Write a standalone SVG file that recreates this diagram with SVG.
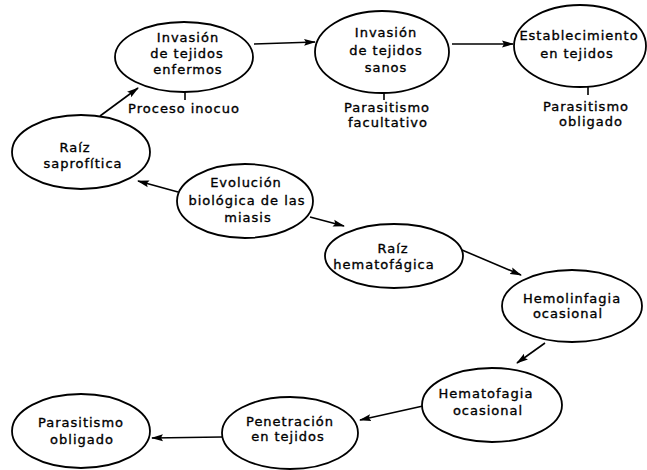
<svg xmlns="http://www.w3.org/2000/svg" width="647" height="470" viewBox="0 0 647 470">
<style>
.n{fill:#fff;stroke:#000;stroke-width:1.8}
text{font-family:"DejaVu Sans","Liberation Sans",sans-serif;font-size:13px;letter-spacing:1px;text-anchor:middle;fill:#000;stroke:#000;stroke-width:0.35}
.c line{stroke:#000;stroke-width:1.6;fill:none}
.t{stroke:#000;stroke-width:1.6}
</style>
<defs>
<marker id="a" viewBox="0 0 12 8" refX="11" refY="4" markerWidth="12" markerHeight="8" markerUnits="userSpaceOnUse" orient="auto">
<path d="M0,0.5 L12,4 L0,7.5 L2,4 Z" fill="#000"/>
</marker>
</defs>
<rect width="647" height="470" fill="#fff"/>
<g class="c">
<line x1="100" y1="116" x2="138" y2="88" marker-end="url(#a)"/>
<line x1="254" y1="44" x2="315" y2="42" marker-end="url(#a)"/>
<line x1="452" y1="44" x2="513" y2="44" marker-end="url(#a)"/>
<line x1="178" y1="192" x2="138" y2="181" marker-end="url(#a)"/>
<line x1="310" y1="217" x2="344" y2="226" marker-end="url(#a)"/>
<line x1="462" y1="250" x2="521" y2="275" marker-end="url(#a)"/>
<line x1="545" y1="343" x2="517" y2="363" marker-end="url(#a)"/>
<line x1="423" y1="406" x2="360" y2="420" marker-end="url(#a)"/>
<line x1="222" y1="437" x2="152" y2="438" marker-end="url(#a)"/>
</g>
<g id="enfermos">
<ellipse class="n" cx="184" cy="57" rx="69" ry="35"/>
<text x="188" y="42">Invasión</text>
<text x="187" y="58">de tejidos</text>
<text x="188" y="74">enfermos</text>
<line class="t" x1="185" y1="92" x2="185" y2="100"/>
<text x="184" y="113">Proceso inocuo</text>
</g>
<g id="sanos">
<ellipse class="n" cx="382" cy="52" rx="67" ry="41"/>
<text x="386" y="37">Invasión</text>
<text x="386" y="55">de tejidos</text>
<text x="386" y="72">sanos</text>
<line class="t" x1="384" y1="93" x2="384" y2="100"/>
<text x="387" y="112">Parasitismo</text>
<text x="388" y="127">facultativo</text>
</g>
<g id="establecimiento">
<ellipse class="n" cx="580" cy="46" rx="66" ry="41"/>
<text x="579" y="40">Establecimiento</text>
<text x="577" y="58">en tejidos</text>
<line class="t" x1="588" y1="87" x2="588" y2="95"/>
<text x="586" y="111">Parasitismo</text>
<text x="591" y="126">obligado</text>
</g>
<g id="saprofitica">
<ellipse class="n" cx="81" cy="152" rx="69" ry="37"/>
<text x="75" y="152">Raíz</text>
<text x="83" y="168">saprofítica</text>
</g>
<g id="evolucion">
<ellipse class="n" cx="245" cy="201" rx="68" ry="37"/>
<text x="246" y="187">Evolución</text>
<text x="247" y="205">biológica de las</text>
<text x="248" y="222">miasis</text>
</g>
<g id="hematofagica">
<ellipse class="n" cx="394" cy="256" rx="69" ry="32"/>
<text x="393" y="253">Raíz</text>
<text x="384" y="269">hematofágica</text>
</g>
<g id="hemolinfagia">
<ellipse class="n" cx="572" cy="306" rx="70" ry="36"/>
<text x="572" y="303">Hemolinfagia</text>
<text x="568" y="318">ocasional</text>
</g>
<g id="hematofagia">
<ellipse class="n" cx="492" cy="405" rx="70" ry="37"/>
<text x="486" y="398">Hematofagia</text>
<text x="488" y="415">ocasional</text>
</g>
<g id="penetracion">
<ellipse class="n" cx="290" cy="433" rx="68" ry="36"/>
<text x="290" y="426">Penetración</text>
<text x="288" y="441">en tejidos</text>
</g>
<g id="obligado">
<ellipse class="n" cx="81" cy="431" rx="69" ry="37"/>
<text x="81" y="427">Parasitismo</text>
<text x="82" y="444">obligado</text>
</g>
</svg>
